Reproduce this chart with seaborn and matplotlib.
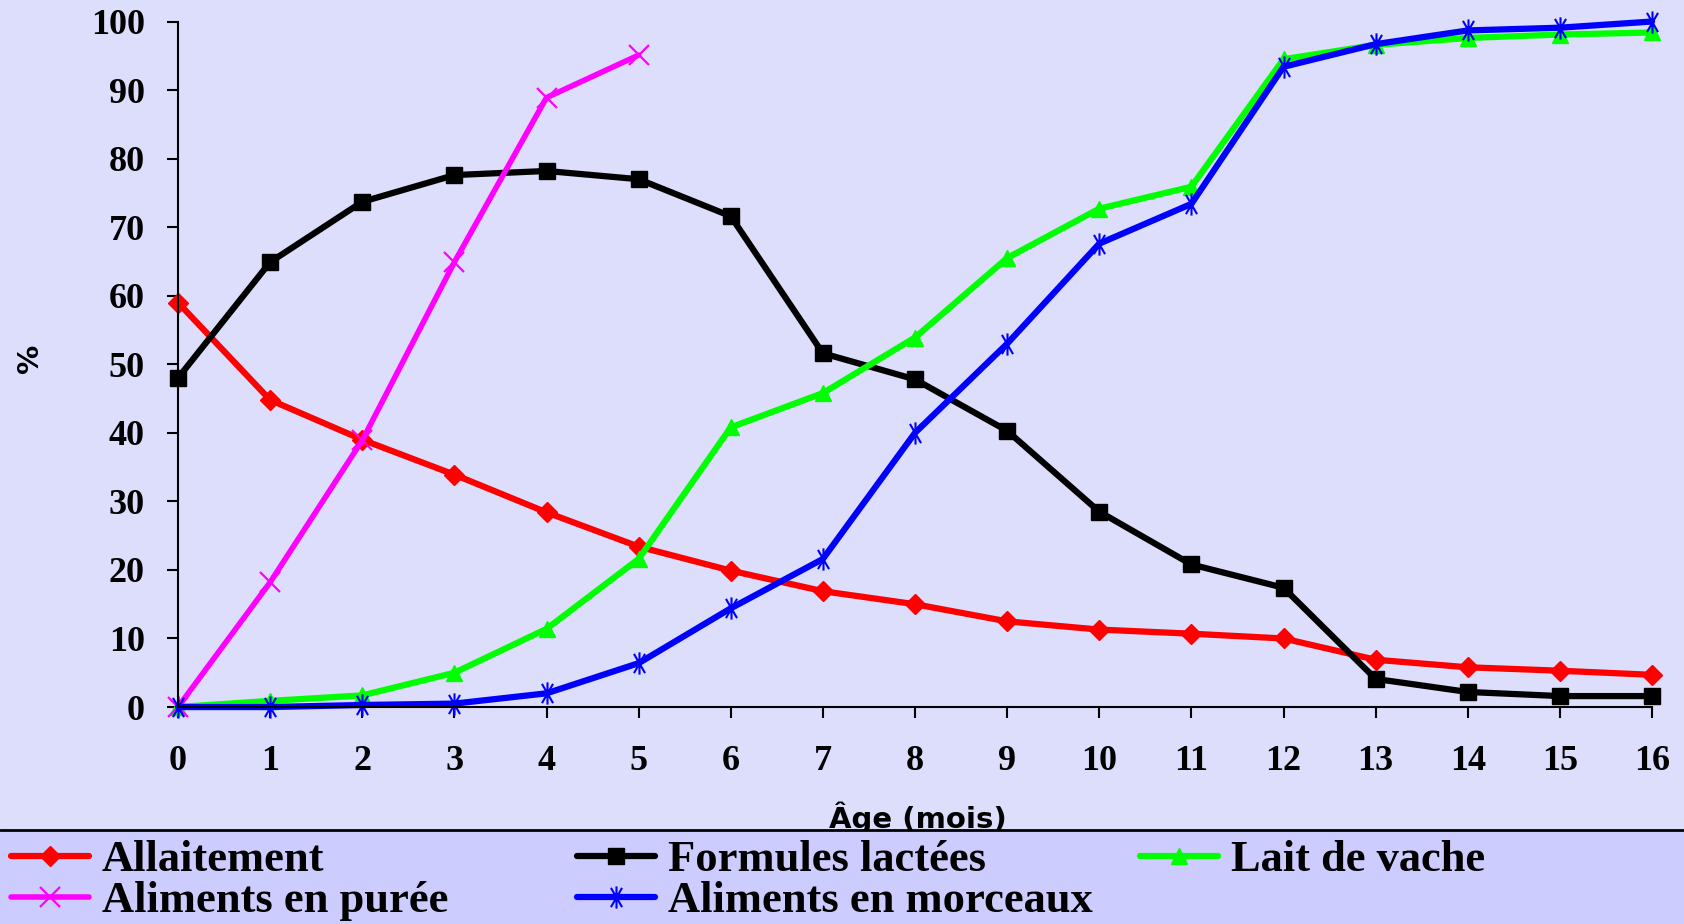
import seaborn as sns
import matplotlib.pyplot as plt
from matplotlib.path import Path
from matplotlib.patches import Rectangle

# values (% by age in months)
ages = list(range(17))
allaitement = [59, 44.8, 39, 33.9, 28.4, 23.4, 19.9, 16.9, 15.0, 12.5, 11.3, 10.7, 10.0, 6.9, 5.8, 5.3, 4.7]
formules = [48, 64.9, 73.7, 77.6, 78.2, 77, 71.6, 51.6, 47.8, 40.3, 28.5, 20.8, 17.4, 4.1, 2.2, 1.6, 1.6]
lait_vache = [0, 0.9, 1.7, 5.0, 11.4, 21.6, 40.8, 45.8, 53.9, 65.5, 72.7, 75.9, 94.5, 96.6, 97.6, 98.1, 98.4]
puree = [0, 18.2, 38.9, 64.9, 88.9, 95.1]
morceaux = [0, 0, 0.3, 0.5, 2.0, 6.4, 14.4, 21.6, 40.0, 53.0, 67.6, 73.4, 93.4, 96.7, 98.7, 99.1, 100]

labels = ["Allaitement", "Formules lactées", "Lait de vache", "Aliments en purée", "Aliments en morceaux"]

bg = "#DCDEFC"
legend_bg = "#CCCCFF"

sns.set_theme(style="white", rc={"text.color": "black", "xtick.color": "black",
                                 "ytick.color": "black", "axes.labelcolor": "black"})
plt.rcParams['font.family'] = ['Liberation Serif', 'DejaVu Sans']

# excel-like asterisk: vertical bar plus a narrow x
star = Path([(0, -1), (0, 1), (-0.5, -0.866), (0.5, 0.866), (-0.5, 0.866), (0.5, -0.866)],
            [Path.MOVETO, Path.LINETO] * 3)

fig = plt.figure(figsize=(16.84, 9.24), dpi=100, facecolor=bg)
ax = fig.add_axes([0.1057, 0.2348, 0.8753, 0.7419])
ax.set_facecolor(bg)

styles = [
    (allaitement, "#FF0000", "D", 10, 1.0, 4.5),
    (formules, "#000000", "s", 11, 1.0, 4.5),
    (lait_vache, "#00FF00", "^", 12, 1.0, 4.5),
    (puree, "#FF00FF", "x", 14, 1.6, 4.0),
    (morceaux, "#0000FF", star, 16, 1.5, 4.5),
]

handles = []
for vals, col, mk, ms, mew, lw in styles:
    sns.lineplot(x=ages[:len(vals)], y=vals, color=col, marker=mk, markersize=ms,
                 markeredgecolor=col, markerfacecolor=col, markeredgewidth=mew,
                 linewidth=lw, clip_on=False, ax=ax)
    handles.append(ax.lines[-1])

ax.set_xlim(0, 16)
ax.set_ylim(0, 100)
ax.set_xticks(ages)
ax.set_yticks(range(0, 101, 10))
ax.set_xlabel("")
ax.set_ylabel("")
for s in ["top", "right"]:
    ax.spines[s].set_visible(False)
for s in ["left", "bottom"]:
    ax.spines[s].set_color("black")
    ax.spines[s].set_linewidth(1.5)
ax.tick_params(axis="x", direction="out", length=8, width=1.5, pad=19, labelsize=26, bottom=True)
ax.tick_params(axis="y", direction="out", length=8, width=1.5, pad=16, labelsize=26, left=True)
for t in ax.get_xticklabels() + ax.get_yticklabels():
    t.set_fontweight("bold")

fig.text(0.5451, 1 - 818 / 924, "Âge (mois)", ha="center", va="center", fontsize=21,
         fontweight="bold", family="DejaVu Sans", zorder=1)
fig.text(30 / 1684, 1 - 358 / 924, "%", ha="center", va="center", fontsize=21,
         fontweight="bold", family="DejaVu Sans", rotation=90)

# legend band at the bottom
fig.add_artist(Rectangle((0, 0), 1, 1 - 830 / 924, transform=fig.transFigure,
                         facecolor=legend_bg, edgecolor="none", zorder=4))
fig.add_artist(plt.Line2D([0, 1], [1 - 830 / 924] * 2, transform=fig.transFigure,
                          color="black", linewidth=2, zorder=4))

spots = [(11, 860), (577, 860), (1140, 860), (11, 901), (577, 901)]
for h, lab, (px, py) in zip(handles, labels, spots):
    leg = fig.legend(handles=[h], labels=[lab], loc="center left",
                     bbox_to_anchor=(px / 1684, 1 - py / 924), frameon=False,
                     prop={"size": 32, "weight": "bold", "family": "Liberation Serif"},
                     handlelength=1.75, handletextpad=0.3, borderpad=0, borderaxespad=0)
    leg.set_zorder(6)

fig.savefig("out.png", dpi=100, facecolor=bg)
